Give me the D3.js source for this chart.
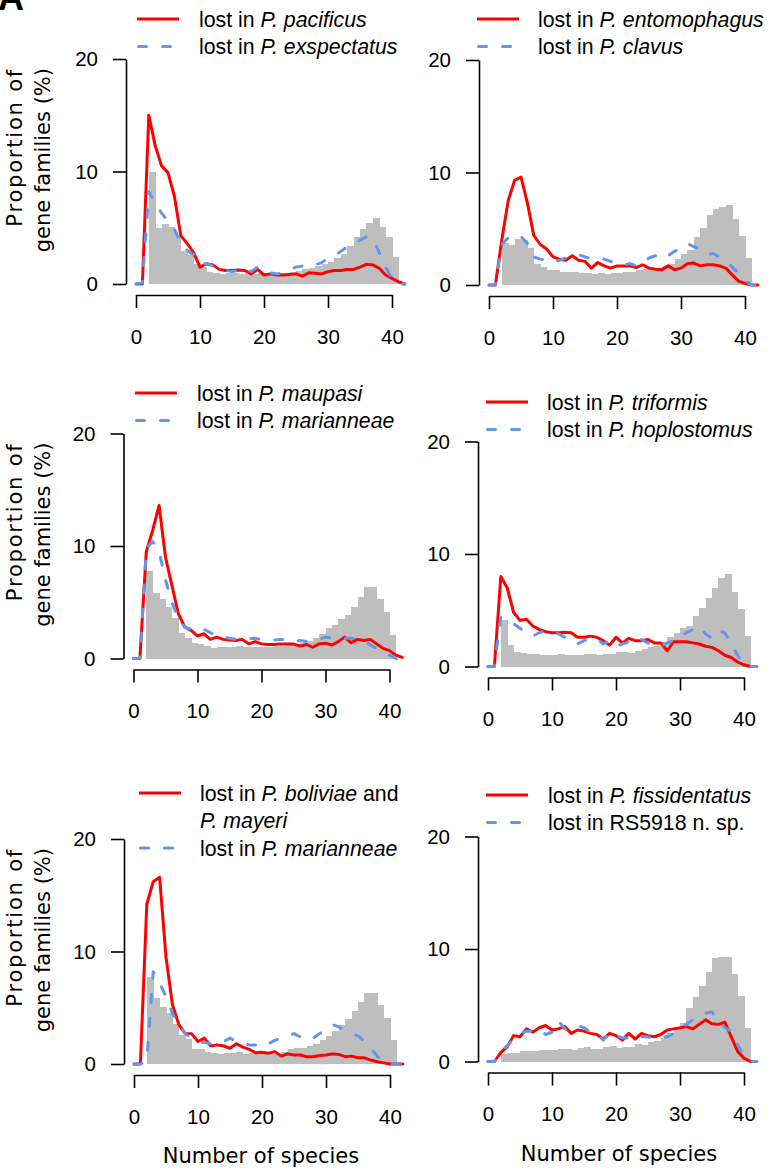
<!DOCTYPE html>
<html>
<head>
<meta charset="utf-8">
<script src="https://cdn.jsdelivr.net/npm/d3@7"></script>
<style>
  body { margin: 0; background: #fff; }
  svg { display: block; }
  .tick text { font-family: "Liberation Sans", Arial, sans-serif; font-size: 20.5px; fill: #000; }
</style>
</head>
<body>
<div id="chart"></div>
<script>
// number of species on the x axis: lines are drawn at 0..42, bars cover 2..40
let species = d3.range(0, 43);
let binStarts = d3.range(2, 41);
let xTicks = [0, 10, 20, 30, 40];
let yTicks = [0, 10, 20];

// grey histogram, one value per bin 2..40
let gray1 = [10.0,5.0,5.3,5.1,4.4,2.9,2.6,1.8,1.5,1.1, 0.95,0.9,0.95,1.0,0.9,0.95,0.9,1.0,0.95,0.9,0.95,1.0, 1.1,1.2,1.3,1.4,1.6,1.8, 2.0,2.3,2.7,3.4,4.15,4.9,5.45,5.85,5.1,4.2,2.4];
let gray2 = [3.7,3.6,4.1,4.0,3.3,1.9,1.6,1.3,1.3,1.2, 1.2,1.2,1.1,1.1,1.0,1.1,1.0,1.05,1.1,1.15,1.2,1.3, 1.4,1.5,1.5,1.7,1.9,2.3, 2.8,3.1,4.3,5.1,6.2,6.8,6.9,7.1,5.9,4.4,2.4];
let gray3 = [7.8,5.8,5.25,4.6,3.6,2.3,1.85,1.35,1.25,1.1, 0.95,1.05,1.0,1.05,1.1,1.05,1.0,1.05,1.05,1.0,1.1,1.1, 1.2,1.3,1.4,1.6,1.8,2.2, 2.7,3.0,3.5,3.9,4.6,5.5,6.4,6.4,5.3,4.1,2.1];
let gray4 = [4.15,1.9,1.3,1.2,1.15,1.1,1.05,1.0,1.05,1.1, 1.0,1.05,1.05,1.1,1.1,1.0,1.1,1.15,1.3,1.3,1.2,1.4, 1.55,1.7,1.8,2.2,2.6,3.0, 3.4,3.6,4.45,5.2,6.1,7.0,7.9,8.25,6.6,5.1,2.7];
let gray5 = [7.7,5.85,5.1,4.5,3.6,2.6,2.2,1.3,1.3,1.1, 1.0,0.9,0.95,1.0,1.1,0.9,0.95,1.0,0.95,0.9,1.0,1.1, 1.3,1.4,1.4,1.6,1.8,2.1, 2.5,2.9,3.5,4.0,4.75,5.55,6.35,6.35,5.25,4.05,2.1];
let gray6 = [0.7,0.75,0.8,0.9,0.9,0.95,1.0,1.0,1.05,1.1, 1.1,1.05,1.2,1.25,1.1,1.15,1.3,1.35,1.2,1.3,1.3,1.6, 1.5,1.7,1.8,2.1,2.5,3.1, 3.4,4.8,5.7,6.7,8.0,9.2,9.3,9.3,7.8,5.8,3.0];

// red solid lines, one value per species count 0..42
let red1 = [0,0,15.0,12.3,10.5,9.9,7.8,4.3,3.6,2.8, 1.5,1.8,1.7,1.3,1.2,1.2,1.25,1.2,0.9,1.3, 0.8,0.9,0.8,0.8,0.85,0.9,0.7,1.0,0.95,0.9, 1.1,1.2,1.2,1.3,1.3,1.5,1.75,1.7,1.4,0.8, 0.5,0.2,0];
let red2 = [0,0,4.0,7.5,9.3,9.6,7.3,4.4,3.6,3.2, 2.5,2.3,2.2,2.6,2.2,2.1,1.5,2.0,1.7,1.5, 1.7,1.7,1.7,1.55,1.8,1.5,1.4,1.35,1.7,1.35, 1.5,1.9,1.95,1.7,1.8,1.8,1.7,1.5,0.9,0.35, 0.15,0,0];
let red3 = [0,0,9.5,11.4,13.6,9.0,6.5,4.0,2.8,2.5, 2.0,2.2,1.7,1.9,1.7,1.65,1.6,1.7,1.3,1.5, 1.3,1.25,1.25,1.3,1.3,1.3,1.1,1.25,1.0,1.3, 1.35,1.2,1.5,1.9,1.4,1.7,1.6,1.7,1.3,0.9, 0.7,0.3,0.1];
let red4 = [0,0,8.0,7.0,4.8,4.1,4.2,3.6,3.3,3.1, 3.0,3.0,3.05,3.0,2.6,2.6,2.7,2.6,2.3,1.9, 2.6,2.1,2.5,2.3,2.3,2.4,2.1,2.1,1.4,2.2, 2.2,2.2,2.1,2.0,1.8,1.7,1.4,1.0,0.8,0.4, 0.15,0,0];
let red5 = [0,0,14.2,16.2,16.6,9.5,5.3,3.5,2.7,2.7, 2.0,2.3,1.6,1.7,1.6,1.4,1.8,1.5,1.3,1.0, 1.05,0.95,1.1,0.7,0.9,0.8,0.8,0.65,0.65,0.75, 0.8,0.9,0.85,0.65,0.7,0.55,0.55,0.35,0.2,0.1, 0,0,0];
let red6 = [0,0,0.8,1.3,2.3,2.2,2.9,2.6,3.0,3.2, 2.8,2.9,3.1,2.5,2.8,2.7,2.5,2.4,2.0,2.5, 2.3,1.9,2.5,2.0,2.5,2.3,2.2,2.4,2.8,2.9, 3.0,3.1,2.9,3.3,3.7,3.35,3.3,3.5,2.2,0.9, 0.3,0,0];

// blue dashed lines, 0..42
let blue1 = [0,0.1,8.2,7.2,6.3,5.6,4.9,3.6,3.0,2.6, 1.8,1.8,1.6,1.4,1.2,1.1,1.2,1.4,1.1,1.5, 1.4,1.0,0.9,1.0,1.3,1.5,1.6,1.6,1.7,1.9, 2.3,2.5,2.9,3.3,3.6,3.9,4.2,4.1,2.8,1.5, 0.5,0,0];
let blue2 = [0,0,3.6,4.2,4.0,4.3,3.7,2.5,2.3,2.2, 2.0,2.2,2.4,2.5,2.7,2.5,2.3,2.4,2.3,2.1, 1.9,1.8,1.9,1.7,1.9,2.4,2.6,2.3,2.6,3.0, 3.2,3.7,3.4,3.2,2.7,2.8,2.5,2.2,1.6,1.0, 0.4,0,0];
let blue3 = [0,0,9.8,10.4,9.5,7.0,5.0,3.5,2.8,2.6, 2.4,2.6,2.3,2.0,1.9,1.8,1.7,1.8,1.75,1.8, 1.7,1.7,1.65,1.7,1.7,1.5,1.6,1.5,1.6,1.7, 1.9,1.8,1.75,1.8,1.8,1.75,1.6,1.2,0.9,0.6, 0.3,0,0];
let blue4 = [0,0,4.4,4.1,3.8,3.4,3.0,2.7,3.0,3.2, 3.1,2.9,2.6,2.1,2.0,2.3,2.5,2.5,2.0,2.3, 1.8,2.0,2.2,2.0,2.4,2.1,1.9,1.8,2.1,2.3, 2.6,3.0,3.3,3.6,2.9,2.5,3.2,3.0,2.0,1.0, 0.1,0,0];
let blue5 = [0,0,0.3,8.2,7.2,6.0,4.5,3.6,2.7,2.3, 2.0,1.9,1.8,1.8,2.0,2.3,2.0,1.8,1.7,1.7, 1.5,1.8,2.1,2.3,2.5,2.7,2.4,2.1,2.3,2.7, 3.1,3.5,3.3,3.0,2.7,2.5,2.0,1.4,0.7,0.2, 0,0,0];
let blue6 = [0,0,0.9,1.4,2.0,2.5,2.7,2.7,2.9,2.4, 2.6,3.6,2.9,2.9,3.2,3.0,2.6,2.5,1.9,2.6, 2.3,2.1,2.1,1.9,2.2,2.2,2.0,2.2,2.2,2.5, 3.0,3.3,3.7,4.1,4.3,4.4,3.5,3.0,2.7,1.5, 0.4,0,0];

// legend texts, *...* is italic, | breaks the line
let redLabels = ["lost in *P. pacificus*", "lost in *P. entomophagus*", "lost in *P. maupasi*",
                 "lost in *P. triformis*", "lost in *P. boliviae* and|*P. mayeri*", "lost in *P. fissidentatus*"];
let blueLabels = ["lost in *P. exspectatus*", "lost in *P. clavus*", "lost in *P. marianneae*",
                  "lost in *P. hoplostomus*", "lost in *P. marianneae*", "lost in RS5918 n. sp."];

let grays = [gray1, gray2, gray3, gray4, gray5, gray6];
let reds = [red1, red2, red3, red4, red5, red6];
let blues = [blue1, blue2, blue3, blue4, blue5, blue6];

// where each panel sits on the page
let panels = [
  {left: 136,   top: 59,    lx: 137, ly: 19,  tx: 199, ylab: true,  xlab: null},
  {left: 489,   top: 60,    lx: 477, ly: 19,  tx: 538, ylab: false, xlab: null},
  {left: 133.5, top: 433.5, lx: 135, ly: 393, tx: 197, ylab: true,  xlab: null},
  {left: 488,   top: 441.5, lx: 486, ly: 402, tx: 547, ylab: false, xlab: null},
  {left: 134,   top: 839,   lx: 139, ly: 793, tx: 200, ylab: true,  xlab: 261},
  {left: 488,   top: 836.5, lx: 486, ly: 795, tx: 548, ylab: false, xlab: 619}
];
let pw = 256, ph = 225;

let RED = "#ff0000", BLUE = "#6495ed", GRAY = "#bebebe";
let sans = '"Liberation Sans", Arial, sans-serif';
let dejavu = '"DejaVu Sans", sans-serif';

let svg = d3.select("#chart").append("svg")
    .attr("width", 770)
    .attr("height", 1170);

svg.append("text")
    .attr("x", -2).attr("y", 10)
    .style("font-family", sans).style("font-weight", "bold").style("font-size", "36px")
    .text("A");

function addRich(sel, str){
  // splits on * and toggles italic
  str.split("*").forEach(function(part, i){
    if(part === "") return;
    sel.append("tspan").style("font-style", i % 2 ? "italic" : "normal").text(part);
  });
}

panels.forEach(function(p, n){
  let x = d3.scaleLinear().domain([0, 40]).range([p.left, p.left + pw]);
  let y = d3.scaleLinear().domain([0, 20]).range([p.top + ph, p.top]);
  let g = svg.append("g");

  // histogram
  g.selectAll("rect").data(grays[n]).enter()
    .append("rect")
      .attr("x", function(d, i){ return x(binStarts[i]); })
      .attr("width", function(d, i){ return x(binStarts[i] + 1) - x(binStarts[i]) + 0.5; })
      .attr("y", function(d){ return y(d); })
      .attr("height", function(d){ return y(0) - y(d); })
      .attr("fill", GRAY)
      .attr("shape-rendering", "crispEdges");

  let line = d3.line()
      .x(function(d, i){ return x(species[i]); })
      .y(function(d){ return y(d); });

  g.append("path").datum(reds[n])
      .attr("d", line)
      .attr("fill", "none")
      .attr("stroke", RED)
      .attr("stroke-width", 3)
      .attr("stroke-linejoin", "round")
      .attr("stroke-linecap", "round");

  g.append("path").datum(blues[n])
      .attr("d", line)
      .attr("fill", "none")
      .attr("stroke", BLUE)
      .attr("stroke-width", 3)
      .attr("stroke-dasharray", "8,16")
      .attr("stroke-linejoin", "round")
      .attr("stroke-linecap", "round");

  // axes, R style: line spans the tick range only
  let yAxis = d3.axisLeft(y).tickValues(yTicks).tickSize(13).tickSizeOuter(0).tickPadding(15);
  let yg = g.append("g").attr("transform", "translate(" + (p.left - 10) + ",0)").call(yAxis);
  let xAxis = d3.axisBottom(x).tickValues(xTicks).tickSize(13).tickSizeOuter(0).tickPadding(21);
  let xg = g.append("g").attr("transform", "translate(0," + (p.top + ph + 11) + ")").call(xAxis);
  [yg, xg].forEach(function(a){
    a.select(".domain").attr("stroke", "#000").attr("stroke-width", 1.6);
    a.selectAll(".tick line").attr("stroke", "#000").attr("stroke-width", 1.6);
  });

  // legend
  let rows = redLabels[n].split("|");
  let rowH = 27.5;
  g.append("line")
      .attr("x1", p.lx).attr("x2", p.lx + 42)
      .attr("y1", p.ly).attr("y2", p.ly)
      .attr("stroke", RED).attr("stroke-width", 3);
  rows.forEach(function(r, i){
    let t = g.append("text")
        .attr("x", p.tx).attr("y", p.ly + i * rowH + 7.5)
        .style("font-family", sans).style("font-size", "21.3px");
    addRich(t, r);
  });
  let by = p.ly + rows.length * rowH;
  g.append("line")
      .attr("x1", p.lx).attr("x2", p.lx + 42)
      .attr("y1", by).attr("y2", by)
      .attr("stroke", BLUE).attr("stroke-width", 3)
      .attr("stroke-dasharray", "8,16").attr("stroke-linecap", "round")
      .attr("transform", "translate(1.5,0)");
  let bt = g.append("text")
      .attr("x", p.tx).attr("y", by + 7.5)
      .style("font-family", sans).style("font-size", "21.3px");
  addRich(bt, blueLabels[n]);

  if(p.ylab){
    // first line is set a little looser, as in the original
    [["Proportion of", 1.8], ["gene families (%)", 0]].forEach(function(s, i){
      g.append("text")
          .attr("transform", "translate(" + (22 + i * 28) + "," + (p.top + 9) + ") rotate(-90)")
          .attr("text-anchor", "end")
          .style("font-family", dejavu).style("font-size", "21px")
          .style("letter-spacing", s[1] + "px")
          .text(s[0]);
    });
  }
  if(p.xlab){
    g.append("text")
        .attr("x", p.xlab).attr("y", p.top + ph + 99)
        .attr("text-anchor", "middle")
        .style("font-family", dejavu).style("font-size", "21px")
        .text("Number of species");
  }
});
</script>
</body>
</html>
